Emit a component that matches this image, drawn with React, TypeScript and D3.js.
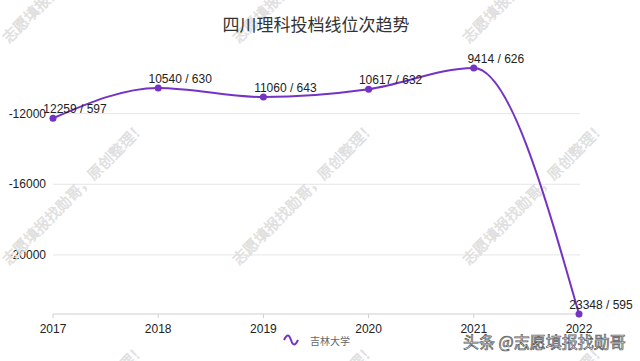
import React from "react";
import * as d3 from "d3";

const years = ["2017", "2018", "2019", "2020", "2021", "2022"];
const ranks = [12259, 10540, 11060, 10617, 9414, 23348];
const scores = [597, 630, 643, 632, 626, 595];
const yTicks = [-12000, -16000, -20000];
const title = "四川理科投档线位次趋势";
const seriesName = "吉林大学";
const watermarkText = "志愿填报找勋哥，原创整理！";
const signature = "头条 @志愿填报找勋哥";

const W = 640;
const H = 361;
const left = 53;
const right = 579;
const top = 68;
const bottom = 314;
const color = "#7433c4";
const latin = "'Liberation Sans', Arial, Helvetica, sans-serif";
const cjk = "'Noto Sans CJK SC', 'Noto Sans', sans-serif";

export default function App() {
  const values = ranks.map((r) => -r);
  const x = d3.scalePoint<string>().domain(years).range([left, right]);
  const ext = d3.extent(values) as [number, number];
  const y = d3.scaleLinear().domain(ext).range([bottom, top]);
  const line = d3
    .line<number>()
    .x((_, i) => x(years[i]) as number)
    .y((v) => y(v))
    .curve(d3.curveMonotoneX);

  const wmCols = [9, 239, 469];
  const wmRows = [44, 266, 488];

  const wave = "M284,340 C287,334 289,334 291,340 C293,346 295,346 298,340";

  return (
    <svg width={W} height={H} style={{ position: "absolute", left: 0, top: 0, background: "#fff" }}>
      <rect x={0} y={0} width={W} height={H} fill="#fff" />
      {/* grid */}
      {yTicks.map((t) => (
        <g key={t}>
          <line x1={left} x2={right + 1} y1={y(t)} y2={y(t)} stroke="#e6e6e6" strokeWidth={1} />
          <text
            x={46}
            y={y(t)}
            dy="0.35em"
            textAnchor="end"
            fontFamily={latin}
            fontSize={12}
            fill="#222"
          >
            {t}
          </text>
        </g>
      ))}
      {/* x axis */}
      <line x1={left} x2={right + 1} y1={bottom} y2={bottom} stroke="#cfcfcf" strokeWidth={1} />
      {years.map((yr) => (
        <g key={yr}>
          <line x1={x(yr)} x2={x(yr)} y1={bottom} y2={bottom + 4} stroke="#cfcfcf" strokeWidth={1} />
          <text
            x={x(yr)}
            y={333}
            textAnchor="middle"
            fontFamily={latin}
            fontSize={12}
            fill="#222"
          >
            {yr}
          </text>
        </g>
      ))}
      {/* watermarks */}
      {wmRows.map((ry) =>
        wmCols.map((cx) => (
          <text
            key={`${cx}-${ry}`}
            transform={`translate(${cx},${ry}) rotate(-45)`}
            fontFamily={cjk}
            fontSize={15}
            fill="#e6e6e6"
            stroke="#d8d8d8"
            strokeWidth={0.4}
          >
            {watermarkText}
          </text>
        ))
      )}
      {/* line */}
      <path d={line(values) || ""} fill="none" stroke={color} strokeWidth={2} />
      {values.map((v, i) => (
        <circle key={i} cx={x(years[i])} cy={y(v)} r={3.5} fill={color} />
      ))}
      {values.map((v, i) => (
        <text
          key={"l" + i}
          x={(x(years[i]) as number) + 22}
          y={y(v) - 5}
          textAnchor="middle"
          fontFamily={latin}
          fontSize={12}
          fill="#222"
        >
          {`${ranks[i]} / ${scores[i]}`}
        </text>
      ))}
      {/* title */}
      <text x={316} y={31} textAnchor="middle" fontFamily={cjk} fontSize={17} fill="#333">
        {title}
      </text>
      {/* legend */}
      <path d={wave} fill="none" stroke={color} strokeWidth={2} />
      <text x={310} y={341} dy="0.35em" fontFamily={cjk} fontSize={10} fill="#666">
        {seriesName}
      </text>
      {/* signature */}
      <text
        x={463}
        y={348}
        fontFamily={cjk}
        fontSize={16}
        fill="#fff"
        stroke="#555"
        strokeWidth={0.7}
      >
        {signature}
      </text>
    </svg>
  );
}
